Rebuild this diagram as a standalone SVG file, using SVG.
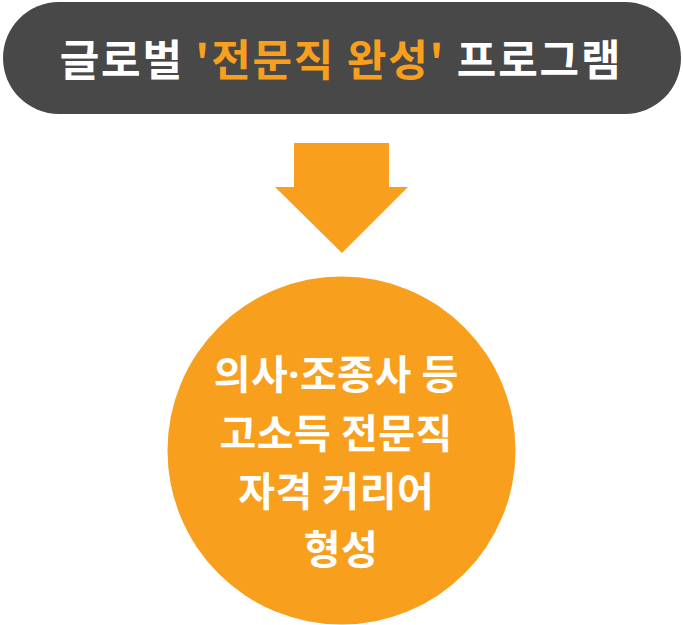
<svg xmlns="http://www.w3.org/2000/svg" width="683" height="625" viewBox="0 0 683 625">
<style>
.t{font-family:"Noto Sans CJK KR","Noto Sans",sans-serif;font-weight:700;text-anchor:middle;fill:#ffffff}
.o{fill:#F8A01E}
.d{font-family:"Noto Sans",sans-serif}
</style>
<rect width="683" height="625" fill="#ffffff"/>
<g id="title">
<rect x="3" y="2" width="678" height="112" rx="56" ry="56" fill="#484848"/>
<text class="t" x="341" y="76" font-size="43" letter-spacing="1.8">글로벌 <tspan class="o">'전문직 완성'</tspan> 프로그램</text>
</g>
<g id="connectors">
<polygon points="294,143 389,143 389,187 408,187 342,253 275,187 294,187" fill="#F8A01E"/>
</g>
<g id="result">
<circle cx="341.5" cy="450.5" r="174" fill="#F8A01E"/>
<text class="t" font-size="40" letter-spacing="0.5">
<tspan x="341" y="389">의사<tspan class="d">·</tspan>조종사 등</tspan>
<tspan x="341" y="448">고소득 전문직</tspan>
<tspan x="341" y="506">자격 커리어</tspan>
<tspan x="341" y="564">형성</tspan>
</text>
</g>
</svg>
